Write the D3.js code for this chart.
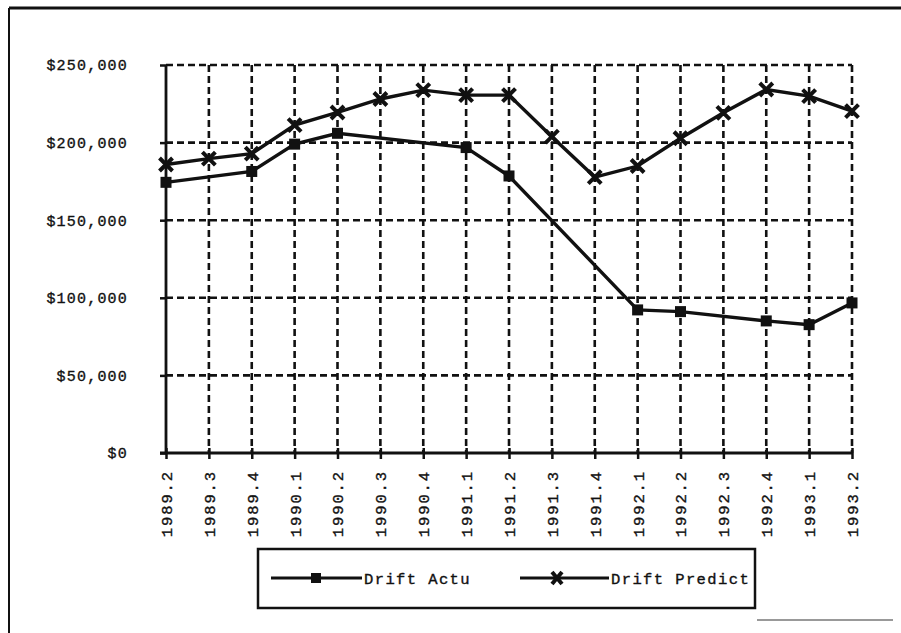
<!DOCTYPE html>
<html>
<head>
<meta charset="utf-8">
<script src="https://cdn.jsdelivr.net/npm/d3@7/dist/d3.min.js"></script>
<style>
  html, body { margin: 0; padding: 0; background: #fff; }
  svg { display: block; }
  text { font-family: "Liberation Mono", "DejaVu Sans Mono", monospace; fill: #111; stroke: #111; stroke-width: 0.35px; }
</style>
</head>
<body>
<svg id="chart" width="901" height="633"></svg>
<script>
// Quarterly periods on the category axis
const categories = ["1989.2","1989.3","1989.4","1990.1","1990.2","1990.3","1990.4",
  "1991.1","1991.2","1991.3","1991.4","1992.1","1992.2","1992.3","1992.4","1993.1","1993.2"];

// Actual drift (empty quarters are bridged by the line)
const driftActual = [174400, null, 181400, 199000, 206000, null, null,
  196800, 178500, null, null, 92200, 91100, null, 85100, 82700, 96700];

// Predicted drift
const driftPredict = [185900, 189700, 192900, 211300, 219400, 228100, 233800,
  230600, 230600, 203800, 177800, 184900, 202800, 219200, 234200, 229900, 220300];

const yTicks = [0, 50000, 100000, 150000, 200000, 250000];
const seriesNames = ["Drift Actu", "Drift Predict"];

const svg = d3.select("#chart");
const plot = { left: 166, right: 852, top: 65, bottom: 453 };

const x = d3.scalePoint().domain(categories).range([plot.left, plot.right]);
const y = d3.scaleLinear().domain([0, 250000]).range([plot.bottom, plot.top]);

// Outer frame fragments
svg.append("line").attr("x1", 9).attr("x2", 901).attr("y1", 8).attr("y2", 8)
  .attr("stroke", "#111").attr("stroke-width", 3);
svg.append("line").attr("x1", 9).attr("x2", 9).attr("y1", 8).attr("y2", 633)
  .attr("stroke", "#111").attr("stroke-width", 2);
svg.append("line").attr("x1", 757).attr("x2", 893).attr("y1", 620).attr("y2", 620)
  .attr("stroke", "#777").attr("stroke-width", 1.5);

const dash = "7,4";

// Horizontal gridlines
svg.append("g").selectAll("line").data(yTicks.filter(d => d > 0)).join("line")
  .attr("x1", plot.left).attr("x2", plot.right)
  .attr("y1", d => y(d)).attr("y2", d => y(d))
  .attr("stroke", "#111").attr("stroke-width", 2.6).attr("stroke-dasharray", dash);

// Vertical gridlines
svg.append("g").selectAll("line").data(categories.slice(1)).join("line")
  .attr("x1", d => x(d)).attr("x2", d => x(d))
  .attr("y1", plot.top).attr("y2", plot.bottom)
  .attr("stroke", "#111").attr("stroke-width", 2.6).attr("stroke-dasharray", dash);

// Value axis
const yAxis = d3.axisLeft(y).tickValues(yTicks).tickSize(5).tickPadding(33)
  .tickFormat(d => "$" + d3.format(",")(d));
const gy = svg.append("g").attr("transform", `translate(${plot.left},0)`).call(yAxis);
gy.select(".domain").attr("stroke", "#111").attr("stroke-width", 2.8)
  .attr("d", `M0,${plot.bottom}V${plot.top}`);
gy.selectAll(".tick line").attr("stroke", "#111").attr("stroke-width", 2.5).attr("x2", -6);
gy.selectAll(".tick text").attr("font-size", 15).attr("letter-spacing", 1.2)
  .attr("font-family", "Liberation Mono");

// Category axis
const xAxis = d3.axisBottom(x).tickSize(6).tickPadding(8);
const gx = svg.append("g").attr("transform", `translate(0,${plot.bottom})`).call(xAxis);
gx.select(".domain").attr("stroke", "#111").attr("stroke-width", 2.8)
  .attr("d", `M${plot.left - 6},0H${plot.right}`);
gx.selectAll(".tick line").attr("stroke", "#111").attr("stroke-width", 2.5)
  .attr("y1", -5).attr("y2", 6);
gx.selectAll(".tick text")
  .attr("font-size", 15.5).attr("letter-spacing", 1.9)
  .attr("transform", "rotate(-90)")
  .attr("text-anchor", "end").attr("dy", "0.35em")
  .attr("x", -17).attr("y", 0);

// Series lines
const line = d3.line().x(d => x(d.cat)).y(d => y(d.v));
const actualPts = categories.map((c, i) => ({ cat: c, v: driftActual[i] })).filter(d => d.v != null);
const predictPts = categories.map((c, i) => ({ cat: c, v: driftPredict[i] }));

svg.append("path").datum(actualPts).attr("d", line)
  .attr("fill", "none").attr("stroke", "#111").attr("stroke-width", 3.4);
svg.append("path").datum(predictPts).attr("d", line)
  .attr("fill", "none").attr("stroke", "#111").attr("stroke-width", 3.4);

// Markers
const sq = 11;
svg.append("g").selectAll("rect").data(actualPts).join("rect")
  .attr("x", d => x(d.cat) - sq / 2).attr("y", d => y(d.v) - sq / 2)
  .attr("width", sq).attr("height", sq).attr("fill", "#111");

const xm = 6.5;
const crossPath = `M${-xm},${-xm}L${xm},${xm}M${-xm},${xm}L${xm},${-xm}`;
svg.append("g").selectAll("path").data(predictPts).join("path")
  .attr("transform", d => `translate(${x(d.cat)},${y(d.v)})`)
  .attr("d", crossPath).attr("stroke", "#111").attr("stroke-width", 4).attr("fill", "none");

// Legend
const lg = svg.append("g");
lg.append("rect").attr("x", 258).attr("y", 549).attr("width", 497).attr("height", 59)
  .attr("fill", "#fff").attr("stroke", "#111").attr("stroke-width", 2.5);
const ly = 578;
// Actual entry
lg.append("line").attr("x1", 271).attr("x2", 362).attr("y1", ly).attr("y2", ly)
  .attr("stroke", "#111").attr("stroke-width", 3);
lg.append("rect").attr("x", 316 - 5).attr("y", ly - 5).attr("width", 10).attr("height", 10).attr("fill", "#111");
lg.append("text").attr("x", 364).attr("y", ly + 6).attr("font-size", 15.5).attr("letter-spacing", 1.4)
  .text(seriesNames[0]);
// Predict entry
lg.append("line").attr("x1", 520).attr("x2", 609).attr("y1", ly).attr("y2", ly)
  .attr("stroke", "#111").attr("stroke-width", 3);
lg.append("path").attr("transform", `translate(557,${ly})`).attr("d", "M-5,-6L5,6M-5,6L5,-6")
  .attr("stroke", "#111").attr("stroke-width", 4).attr("fill", "none");
lg.append("text").attr("x", 611).attr("y", ly + 6).attr("font-size", 15.5).attr("letter-spacing", 1.4)
  .text(seriesNames[1]);
</script>
</body>
</html>
